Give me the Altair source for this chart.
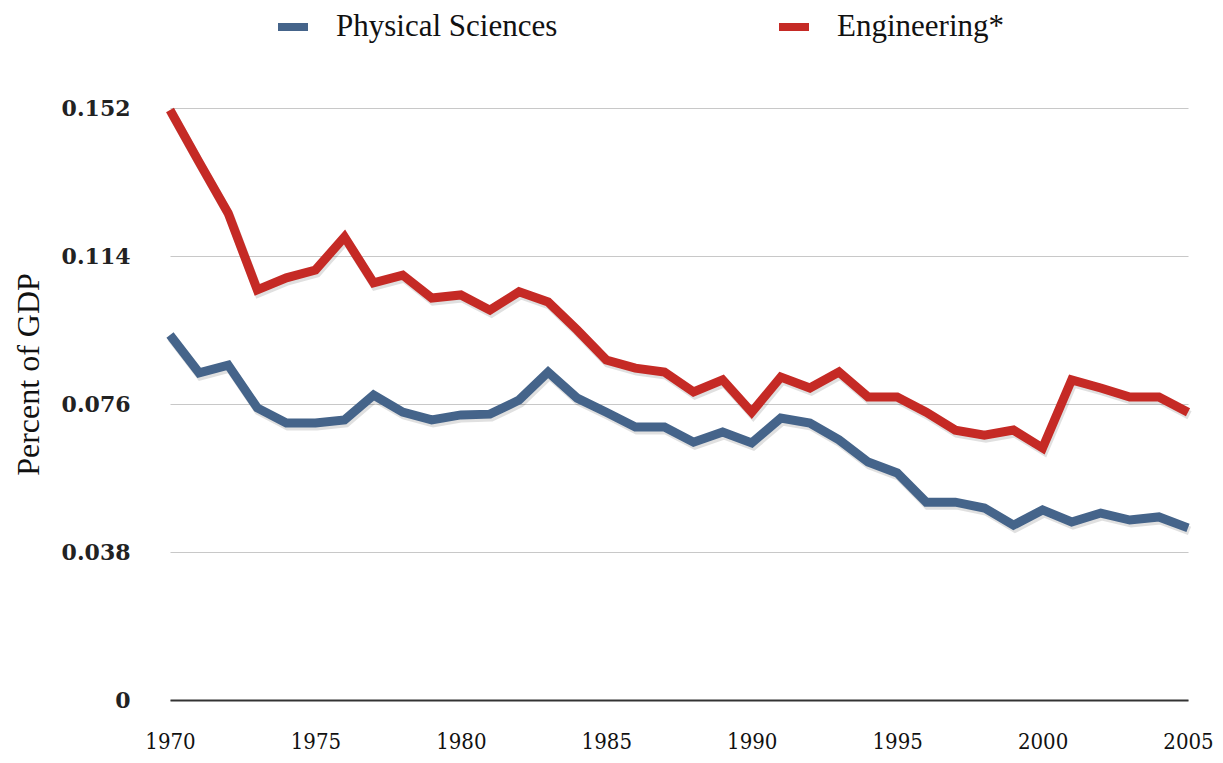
import altair as alt
import pandas as pd

years = list(range(1970, 2006))
physical = [0.0937, 0.0840, 0.0860, 0.0750, 0.0711, 0.0711, 0.0719, 0.0783, 0.0739, 0.0719,
            0.0732, 0.0734, 0.0770, 0.0842, 0.0775, 0.0739, 0.0701, 0.0701, 0.0662, 0.0688,
            0.0660, 0.0724, 0.0711, 0.0668, 0.0611, 0.0583, 0.0508, 0.0508, 0.0493, 0.0449,
            0.0488, 0.0457, 0.0480, 0.0462, 0.0470, 0.0442]
engineering = [0.1515, 0.1381, 0.1250, 0.1053, 0.1084, 0.1104, 0.1189, 0.1071, 0.1091, 0.1032,
               0.1040, 0.1001, 0.1048, 0.1022, 0.0950, 0.0873, 0.0852, 0.0842, 0.0791, 0.0822,
               0.0739, 0.0829, 0.0801, 0.0842, 0.0778, 0.0778, 0.0739, 0.0693, 0.0680, 0.0693,
               0.0647, 0.0822, 0.0801, 0.0778, 0.0778, 0.0739]
series_names = ["Physical Sciences", "Engineering*"]
series_colors = ["#45648A", "#C52A25"]
y_ticks = [0, 0.038, 0.076, 0.114, 0.152]
x_ticks = [1970, 1975, 1980, 1985, 1990, 1995, 2000, 2005]

df = pd.DataFrame({
    "year": years * 2,
    "value": physical + engineering,
    "series": [series_names[0]] * len(years) + [series_names[1]] * len(years),
})

x_enc = alt.X("year:Q", scale=alt.Scale(domain=[1970, 2005], nice=False, zero=False),
              axis=alt.Axis(values=x_ticks, format="d", title=None, grid=False,
                            domain=True, domainColor="#333333", domainWidth=2,
                            ticks=False, labelPadding=31, labelFlush=False,
                            labelFont="DejaVu Serif Condensed, Liberation Serif, serif",
                            labelFontSize=22, labelColor="#111111"))
y_enc = alt.Y("value:Q", scale=alt.Scale(domain=[0, 0.152], nice=False),
              axis=alt.Axis(values=y_ticks, format=".3~f", title="Percent of GDP",
                            grid=True, gridColor="#C8C8C8", gridWidth=1.2,
                            domain=False, ticks=False, labelPadding=40,
                            labelFont="DejaVu Serif", labelFontWeight="bold",
                            labelFontSize=22, labelColor="#222222",
                            titleFont="Liberation Serif", titleFontWeight="normal",
                            titleFontSize=32, titleColor="#111111",
                            titleAngle=270, titleX=-142, titleY=266,
                            titleAlign="center", titleBaseline="middle"))

shadow = alt.Chart(df).mark_line(strokeWidth=9, color="#000000", opacity=0.12,
                                 xOffset=1.5, yOffset=3, strokeJoin="miter").encode(
    x=x_enc, y=y_enc, detail="series:N")

lines = alt.Chart(df).mark_line(strokeWidth=9, strokeJoin="miter").encode(
    x=x_enc, y=y_enc,
    color=alt.Color("series:N",
                    scale=alt.Scale(domain=series_names, range=series_colors),
                    sort=series_names,
                    legend=alt.Legend(title=None, orient="none", direction="horizontal",
                                      legendX=104, legendY=-100,
                                      symbolType="stroke", symbolSize=900,
                                      symbolStrokeWidth=8, labelOffset=24,
                                      columnPadding=205,
                                      labelFont="Liberation Serif", labelFontSize=31,
                                      labelColor="#111111", labelLimit=400)))

chart = alt.layer(shadow, lines).properties(
    width=1018, height=592,
    autosize=alt.AutoSizeParams(type="none"),
    padding={"left": 162, "top": 100, "right": 27, "bottom": 55},
).configure(background="white").configure_view(stroke=None, strokeWidth=0)

chart.save("out.html", embed_options={"renderer": "svg", "actions": False})
